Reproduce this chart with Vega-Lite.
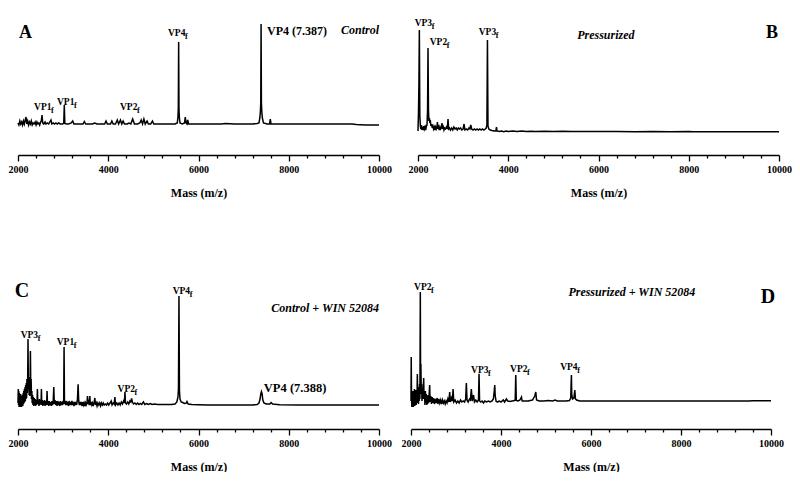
{
"$schema":"https://vega.github.io/schema/vega-lite/v6.json",
"padding":{"left":0,"top":15,"right":0,"bottom":0},
"background":"white",
"config":{"view":{"stroke":null},"font":"Liberation Serif",
 "axis":{"domainColor":"black","domainWidth":1.3,"tickColor":"black","tickWidth":1.3,"labelFont":"Liberation Serif","labelFontWeight":"bold","labelFontSize":10,"labelColor":"black","titleFont":"Liberation Serif","titleFontWeight":"bold","titleFontSize":12,"titleColor":"black"}},
"datasets":{
"A":[{"m":2000,"i":32},{"m":2020,"i":30},{"m":2040,"i":34},{"m":2060,"i":31},{"m":2080,"i":33},{"m":2100,"i":30},{"m":2120,"i":34},{"m":2140,"i":31},{"m":2160,"i":35},{"m":2177,"i":38},{"m":2195,"i":31},{"m":2215,"i":34},{"m":2235,"i":30},{"m":2255,"i":33},{"m":2275,"i":31},{"m":2295,"i":34},{"m":2315,"i":30},{"m":2335,"i":32},{"m":2355,"i":31},{"m":2380,"i":33},{"m":2400,"i":30},{"m":2420,"i":33},{"m":2440,"i":31},{"m":2460,"i":32},{"m":2480,"i":30},{"m":2500,"i":33},{"m":2517,"i":34},{"m":2532,"i":40},{"m":2547,"i":32},{"m":2570,"i":31},{"m":2600,"i":33},{"m":2620,"i":31},{"m":2650,"i":32},{"m":2680,"i":31},{"m":2705,"i":33},{"m":2731,"i":35},{"m":2750,"i":31},{"m":2780,"i":32},{"m":2810,"i":31},{"m":2840,"i":32},{"m":2870,"i":31},{"m":2900,"i":32},{"m":2940,"i":31},{"m":2990,"i":31},{"m":3014,"i":32},{"m":3026,"i":50},{"m":3038,"i":31.5},{"m":3080,"i":31},{"m":3120,"i":31},{"m":3180,"i":32},{"m":3212,"i":34},{"m":3240,"i":31},{"m":3300,"i":31},{"m":3380,"i":31},{"m":3440,"i":31},{"m":3470,"i":33.5},{"m":3500,"i":31},{"m":3580,"i":31},{"m":3650,"i":31},{"m":3700,"i":32},{"m":3750,"i":31},{"m":3850,"i":31},{"m":3920,"i":31},{"m":3950,"i":34},{"m":3980,"i":31},{"m":4050,"i":31},{"m":4080,"i":34},{"m":4110,"i":31},{"m":4160,"i":31},{"m":4200,"i":35},{"m":4230,"i":31},{"m":4270,"i":35},{"m":4300,"i":31},{"m":4330,"i":34},{"m":4360,"i":31},{"m":4420,"i":31},{"m":4460,"i":32},{"m":4500,"i":31},{"m":4541,"i":36},{"m":4580,"i":31},{"m":4650,"i":31},{"m":4700,"i":32},{"m":4730,"i":35},{"m":4760,"i":31},{"m":4790,"i":36},{"m":4820,"i":31},{"m":4860,"i":34},{"m":4890,"i":31},{"m":4940,"i":31},{"m":4980,"i":34},{"m":5010,"i":31},{"m":5100,"i":31},{"m":5200,"i":31},{"m":5300,"i":31},{"m":5400,"i":31},{"m":5480,"i":31},{"m":5530,"i":32},{"m":5545,"i":38},{"m":5553,"i":47},{"m":5560,"i":113},{"m":5567,"i":47},{"m":5575,"i":38},{"m":5590,"i":32},{"m":5640,"i":31},{"m":5690,"i":32},{"m":5707,"i":38},{"m":5725,"i":32},{"m":5745,"i":31},{"m":5761,"i":35},{"m":5780,"i":31},{"m":5850,"i":31},{"m":5950,"i":31},{"m":6100,"i":31},{"m":6300,"i":31},{"m":6500,"i":31},{"m":6600,"i":31.5},{"m":6800,"i":31},{"m":7000,"i":31},{"m":7200,"i":31},{"m":7300,"i":31.5},{"m":7340,"i":32},{"m":7360,"i":37},{"m":7372,"i":44},{"m":7380,"i":52},{"m":7387,"i":131},{"m":7394,"i":52},{"m":7402,"i":44},{"m":7415,"i":37},{"m":7440,"i":32},{"m":7520,"i":31},{"m":7575,"i":31},{"m":7591,"i":36},{"m":7607,"i":31},{"m":7700,"i":31},{"m":8000,"i":31},{"m":8500,"i":31},{"m":9000,"i":31},{"m":9400,"i":31},{"m":9500,"i":30.5},{"m":9700,"i":30},{"m":10000,"i":30}],
"B":[{"m":2000,"i":24},{"m":2012,"i":45},{"m":2020,"i":70},{"m":2030,"i":125},{"m":2040,"i":40},{"m":2052,"i":29},{"m":2064,"i":26},{"m":2076,"i":30},{"m":2088,"i":25},{"m":2100,"i":28},{"m":2114,"i":25},{"m":2128,"i":29},{"m":2142,"i":26},{"m":2156,"i":28},{"m":2170,"i":25},{"m":2185,"i":29},{"m":2200,"i":30},{"m":2212,"i":45},{"m":2222,"i":107},{"m":2232,"i":45},{"m":2242,"i":34},{"m":2252,"i":37},{"m":2262,"i":32},{"m":2272,"i":35},{"m":2285,"i":29},{"m":2300,"i":31},{"m":2315,"i":27},{"m":2330,"i":29},{"m":2345,"i":26},{"m":2360,"i":28},{"m":2375,"i":25},{"m":2390,"i":28},{"m":2405,"i":26},{"m":2420,"i":28},{"m":2430,"i":33},{"m":2440,"i":26},{"m":2455,"i":28},{"m":2470,"i":25},{"m":2485,"i":28},{"m":2500,"i":26},{"m":2515,"i":27},{"m":2532,"i":32},{"m":2545,"i":26},{"m":2560,"i":28},{"m":2575,"i":25},{"m":2590,"i":27},{"m":2610,"i":26},{"m":2630,"i":28},{"m":2650,"i":26},{"m":2665,"i":36},{"m":2680,"i":26},{"m":2700,"i":27},{"m":2720,"i":25},{"m":2745,"i":27},{"m":2770,"i":25},{"m":2795,"i":28},{"m":2820,"i":26},{"m":2845,"i":27},{"m":2870,"i":25},{"m":2895,"i":27},{"m":2920,"i":26},{"m":2945,"i":27},{"m":2970,"i":25},{"m":3000,"i":26},{"m":3020,"i":31},{"m":3040,"i":25},{"m":3070,"i":26},{"m":3100,"i":25},{"m":3130,"i":27},{"m":3150,"i":26},{"m":3169,"i":30},{"m":3190,"i":26},{"m":3220,"i":25},{"m":3250,"i":26},{"m":3280,"i":25},{"m":3310,"i":26},{"m":3340,"i":25},{"m":3370,"i":26},{"m":3400,"i":25},{"m":3430,"i":26},{"m":3460,"i":25},{"m":3490,"i":26},{"m":3512,"i":27},{"m":3527,"i":30},{"m":3539,"i":115},{"m":3551,"i":29},{"m":3570,"i":26},{"m":3600,"i":25},{"m":3640,"i":24.5},{"m":3690,"i":24},{"m":3725,"i":24},{"m":3739,"i":28},{"m":3753,"i":24},{"m":3800,"i":23.5},{"m":3850,"i":24},{"m":3900,"i":23.4},{"m":3950,"i":24},{"m":4000,"i":23.5},{"m":4100,"i":24},{"m":4200,"i":23.4},{"m":4300,"i":23.9},{"m":4400,"i":23.4},{"m":4500,"i":23.8},{"m":4600,"i":23.4},{"m":4800,"i":23.8},{"m":5000,"i":23.4},{"m":5200,"i":23.7},{"m":5400,"i":23.4},{"m":5700,"i":23.6},{"m":6000,"i":23.4},{"m":6400,"i":23.6},{"m":6800,"i":23.3},{"m":7200,"i":23.5},{"m":7600,"i":23.3},{"m":8000,"i":23.4},{"m":8100,"i":23.2},{"m":9000,"i":23.2},{"m":10000,"i":23.2}],
"C":[{"m":2000,"i":26},{"m":2006,"i":40},{"m":2012,"i":24},{"m":2018,"i":38},{"m":2024,"i":22},{"m":2030,"i":36},{"m":2037,"i":23},{"m":2044,"i":33},{"m":2051,"i":22},{"m":2058,"i":35},{"m":2065,"i":24},{"m":2072,"i":31},{"m":2079,"i":22},{"m":2086,"i":33},{"m":2093,"i":24},{"m":2100,"i":34},{"m":2107,"i":23},{"m":2114,"i":36},{"m":2121,"i":25},{"m":2128,"i":38},{"m":2135,"i":26},{"m":2142,"i":40},{"m":2149,"i":27},{"m":2156,"i":42},{"m":2163,"i":28},{"m":2170,"i":44},{"m":2177,"i":30},{"m":2184,"i":46},{"m":2191,"i":31},{"m":2198,"i":50},{"m":2206,"i":36},{"m":2214,"i":48},{"m":2222,"i":90},{"m":2230,"i":40},{"m":2238,"i":52},{"m":2246,"i":34},{"m":2254,"i":46},{"m":2262,"i":33},{"m":2268,"i":45},{"m":2275,"i":78},{"m":2283,"i":40},{"m":2291,"i":50},{"m":2299,"i":30},{"m":2307,"i":38},{"m":2315,"i":26},{"m":2323,"i":34},{"m":2331,"i":24},{"m":2340,"i":32},{"m":2350,"i":23},{"m":2360,"i":31},{"m":2370,"i":24},{"m":2380,"i":30},{"m":2390,"i":23},{"m":2400,"i":29},{"m":2412,"i":24},{"m":2422,"i":28},{"m":2430,"i":40},{"m":2440,"i":25},{"m":2452,"i":29},{"m":2464,"i":23},{"m":2476,"i":30},{"m":2488,"i":24},{"m":2500,"i":28},{"m":2512,"i":26},{"m":2519,"i":40},{"m":2528,"i":24},{"m":2540,"i":29},{"m":2552,"i":23},{"m":2564,"i":28},{"m":2576,"i":24},{"m":2588,"i":29},{"m":2600,"i":23},{"m":2612,"i":28},{"m":2624,"i":24},{"m":2636,"i":27},{"m":2644,"i":38},{"m":2654,"i":24},{"m":2668,"i":28},{"m":2682,"i":23},{"m":2696,"i":28},{"m":2710,"i":24},{"m":2724,"i":27},{"m":2738,"i":23},{"m":2752,"i":28},{"m":2766,"i":24},{"m":2780,"i":27},{"m":2793,"i":42},{"m":2805,"i":25},{"m":2820,"i":29},{"m":2835,"i":24},{"m":2850,"i":28},{"m":2865,"i":23},{"m":2880,"i":28},{"m":2895,"i":24},{"m":2910,"i":27},{"m":2925,"i":23},{"m":2940,"i":28},{"m":2955,"i":24},{"m":2970,"i":27},{"m":2985,"i":24},{"m":3000,"i":28},{"m":3012,"i":25},{"m":3021,"i":82},{"m":3030,"i":25},{"m":3045,"i":28},{"m":3060,"i":24},{"m":3075,"i":28},{"m":3090,"i":24},{"m":3105,"i":27},{"m":3120,"i":23},{"m":3135,"i":28},{"m":3150,"i":24},{"m":3165,"i":27},{"m":3180,"i":24},{"m":3195,"i":28},{"m":3210,"i":24},{"m":3225,"i":27},{"m":3240,"i":23},{"m":3255,"i":27},{"m":3270,"i":24},{"m":3285,"i":27},{"m":3300,"i":24},{"m":3318,"i":30},{"m":3332,"i":44.7},{"m":3345,"i":28},{"m":3360,"i":24},{"m":3375,"i":27},{"m":3390,"i":24},{"m":3405,"i":27},{"m":3420,"i":23},{"m":3435,"i":27},{"m":3450,"i":24},{"m":3465,"i":26},{"m":3480,"i":23},{"m":3495,"i":26},{"m":3510,"i":24},{"m":3528,"i":26},{"m":3540,"i":33},{"m":3552,"i":25},{"m":3566,"i":27},{"m":3580,"i":24},{"m":3592,"i":33},{"m":3604,"i":24},{"m":3620,"i":27},{"m":3636,"i":24},{"m":3652,"i":26},{"m":3668,"i":23},{"m":3684,"i":26},{"m":3703,"i":31},{"m":3718,"i":24},{"m":3735,"i":26},{"m":3752,"i":23},{"m":3770,"i":26},{"m":3790,"i":24},{"m":3810,"i":26},{"m":3830,"i":23},{"m":3850,"i":26},{"m":3870,"i":24},{"m":3890,"i":26},{"m":3910,"i":24},{"m":3935,"i":25},{"m":3960,"i":24},{"m":3985,"i":26},{"m":4010,"i":24},{"m":4040,"i":26},{"m":4065,"i":28},{"m":4085,"i":24},{"m":4110,"i":26},{"m":4132,"i":25},{"m":4147,"i":32},{"m":4162,"i":24},{"m":4190,"i":26},{"m":4215,"i":24},{"m":4240,"i":26},{"m":4265,"i":24},{"m":4290,"i":27},{"m":4315,"i":25},{"m":4340,"i":28},{"m":4358,"i":26},{"m":4370,"i":37},{"m":4382,"i":26},{"m":4405,"i":25},{"m":4430,"i":27},{"m":4455,"i":25},{"m":4480,"i":28},{"m":4500,"i":27},{"m":4517,"i":30.5},{"m":4535,"i":27},{"m":4560,"i":25},{"m":4590,"i":26},{"m":4620,"i":24.5},{"m":4650,"i":26},{"m":4680,"i":24.5},{"m":4710,"i":25.5},{"m":4740,"i":24.5},{"m":4780,"i":27},{"m":4810,"i":24.5},{"m":4850,"i":25.5},{"m":4890,"i":24.5},{"m":4930,"i":25.5},{"m":4970,"i":24.5},{"m":5020,"i":25},{"m":5100,"i":24.5},{"m":5200,"i":24.5},{"m":5300,"i":24.5},{"m":5400,"i":24.5},{"m":5480,"i":25},{"m":5520,"i":27},{"m":5545,"i":32},{"m":5556,"i":40},{"m":5567,"i":133},{"m":5578,"i":38},{"m":5590,"i":30},{"m":5615,"i":27},{"m":5650,"i":26.5},{"m":5690,"i":25.5},{"m":5730,"i":26},{"m":5745,"i":27.5},{"m":5770,"i":25},{"m":5850,"i":24.5},{"m":6000,"i":24.3},{"m":6200,"i":24},{"m":6500,"i":24},{"m":6800,"i":24},{"m":7000,"i":24},{"m":7200,"i":24},{"m":7300,"i":24.5},{"m":7340,"i":26},{"m":7365,"i":30},{"m":7380,"i":35},{"m":7395,"i":37.3},{"m":7410,"i":35},{"m":7425,"i":29},{"m":7450,"i":26},{"m":7500,"i":25},{"m":7580,"i":25},{"m":7610,"i":26.5},{"m":7640,"i":25},{"m":7800,"i":24.3},{"m":8200,"i":24},{"m":8600,"i":24},{"m":9000,"i":24},{"m":9500,"i":24},{"m":10000,"i":24}],
"D":[{"m":2000,"i":28},{"m":2005,"i":72},{"m":2012,"i":30},{"m":2020,"i":22},{"m":2028,"i":36},{"m":2036,"i":24},{"m":2044,"i":38},{"m":2052,"i":22},{"m":2060,"i":34},{"m":2068,"i":25},{"m":2076,"i":40},{"m":2084,"i":23},{"m":2092,"i":35},{"m":2100,"i":26},{"m":2108,"i":39},{"m":2116,"i":24},{"m":2124,"i":37},{"m":2132,"i":26},{"m":2141,"i":55},{"m":2150,"i":27},{"m":2158,"i":40},{"m":2166,"i":25},{"m":2174,"i":42},{"m":2182,"i":28},{"m":2190,"i":45},{"m":2198,"i":30},{"m":2207,"i":137},{"m":2214,"i":40},{"m":2220,"i":65},{"m":2228,"i":35},{"m":2236,"i":45},{"m":2244,"i":28},{"m":2252,"i":40},{"m":2260,"i":30},{"m":2270,"i":38},{"m":2282,"i":51},{"m":2290,"i":30},{"m":2300,"i":36},{"m":2310,"i":24},{"m":2320,"i":38},{"m":2330,"i":26},{"m":2340,"i":35},{"m":2350,"i":24},{"m":2360,"i":33},{"m":2370,"i":25},{"m":2380,"i":34},{"m":2390,"i":26},{"m":2400,"i":32},{"m":2415,"i":44},{"m":2425,"i":27},{"m":2440,"i":33},{"m":2455,"i":25},{"m":2470,"i":32},{"m":2485,"i":26},{"m":2500,"i":31},{"m":2520,"i":25},{"m":2540,"i":30},{"m":2560,"i":26},{"m":2580,"i":31},{"m":2600,"i":25},{"m":2620,"i":30},{"m":2640,"i":26},{"m":2660,"i":29},{"m":2680,"i":25},{"m":2700,"i":29},{"m":2720,"i":26},{"m":2740,"i":28},{"m":2760,"i":25},{"m":2780,"i":28},{"m":2800,"i":26},{"m":2820,"i":30},{"m":2840,"i":27},{"m":2860,"i":37},{"m":2875,"i":27},{"m":2900,"i":31},{"m":2920,"i":28},{"m":2935,"i":40},{"m":2950,"i":27},{"m":2980,"i":29},{"m":3010,"i":26},{"m":3040,"i":28},{"m":3070,"i":26},{"m":3100,"i":29},{"m":3130,"i":27},{"m":3160,"i":28},{"m":3190,"i":27},{"m":3215,"i":30},{"m":3230,"i":46},{"m":3245,"i":29},{"m":3270,"i":27},{"m":3300,"i":30},{"m":3320,"i":29},{"m":3341,"i":40},{"m":3360,"i":28},{"m":3390,"i":34},{"m":3410,"i":27},{"m":3440,"i":29},{"m":3470,"i":27},{"m":3500,"i":29},{"m":3512,"i":55.3},{"m":3524,"i":28},{"m":3550,"i":27},{"m":3580,"i":28},{"m":3610,"i":26},{"m":3640,"i":28},{"m":3680,"i":27},{"m":3720,"i":28},{"m":3760,"i":27},{"m":3800,"i":28},{"m":3830,"i":30},{"m":3850,"i":38},{"m":3861,"i":44},{"m":3872,"i":33},{"m":3890,"i":28},{"m":3920,"i":27},{"m":3960,"i":28},{"m":4000,"i":27},{"m":4050,"i":29},{"m":4080,"i":27},{"m":4120,"i":30},{"m":4150,"i":28},{"m":4200,"i":27.5},{"m":4250,"i":28},{"m":4300,"i":28.5},{"m":4316,"i":29},{"m":4328,"i":54},{"m":4340,"i":28.5},{"m":4380,"i":28},{"m":4420,"i":29},{"m":4455,"i":32},{"m":4470,"i":28},{"m":4520,"i":28},{"m":4600,"i":28},{"m":4700,"i":29},{"m":4750,"i":33},{"m":4773,"i":37},{"m":4790,"i":29},{"m":4850,"i":28},{"m":4950,"i":28},{"m":5050,"i":28.5},{"m":5150,"i":28},{"m":5200,"i":29},{"m":5250,"i":28},{"m":5350,"i":28},{"m":5450,"i":28},{"m":5520,"i":28.5},{"m":5550,"i":31},{"m":5558,"i":45},{"m":5565,"i":54},{"m":5572,"i":35},{"m":5590,"i":30},{"m":5620,"i":31},{"m":5640,"i":39},{"m":5655,"i":30},{"m":5680,"i":29},{"m":5750,"i":28},{"m":5900,"i":28},{"m":6100,"i":28},{"m":6500,"i":28},{"m":7000,"i":28},{"m":7500,"i":28},{"m":8000,"i":28},{"m":8500,"i":28},{"m":9000,"i":28},{"m":9500,"i":28},{"m":9600,"i":28.3},{"m":10000,"i":28.3}],
"Alab":[{"m":2355,"i":45,"t":"VP1"},{"m":2864,"i":50.5,"t":"VP1"},{"m":4260,"i":45,"t":"VP2"},{"m":5324,"i":119.5,"t":"VP4"}],
"Blab":[{"m":1927,"i":129,"t":"VP3"},{"m":2260,"i":110,"t":"VP2"},{"m":3346,"i":120,"t":"VP3"}],
"Clab":[{"m":2060,"i":90.7,"t":"VP3"},{"m":2859,"i":84,"t":"VP1"},{"m":4207,"i":37.3,"t":"VP2"},{"m":5428,"i":135,"t":"VP4"}],
"Dlab":[{"m":2067,"i":138.7,"t":"VP2"},{"m":3334,"i":56.3,"t":"VP3"},{"m":4202,"i":57,"t":"VP2"},{"m":5314,"i":59,"t":"VP4"}]
},
"spacing":83,
"vconcat":[
{"bounds":"flush","spacing":39,"hconcat":[
 {"width":361,"height":140,
  "encoding":{
   "x":{"field":"m","type":"quantitative","scale":{"domain":[2000,10000],"nice":false,"zero":false},
     "axis":{"title":"Mass (m/z)","values":[2000,2400,2800,3200,3600,4000,4400,4800,5200,5600,6000,6400,6800,7200,7600,8000,8400,8800,9200,9600,10000],"format":"d","labelExpr":"datum.value % 2000 === 0 ? datum.label : ''","tickSize":{"condition":{"test":"datum.value % 2000 === 0","value":6},"value":3},"grid":false,"labelOverlap":false,"labelFlush":false,"labelPadding":3,"titlePadding":13}},
   "y":{"field":"i","type":"quantitative","scale":{"domain":[0,140],"nice":false,"zero":false},
     "axis":{"title":null,"labels":false,"ticks":false,"domain":false,"grid":false,"minExtent":18,"maxExtent":18}}},
  "layer":[
   {"data":{"name":"A"},"mark":{"type":"line","color":"black","strokeWidth":1.5},"encoding":{}},
   {"data":{"name":"Alab"},"mark":{"type":"text","align":"left","baseline":"alphabetic","font":"Liberation Serif","fontWeight":"bold","fontSize":9.5,"color":"black"},"encoding":{"text":{"field":"t"}}},
   {"data":{"name":"Alab"},"mark":{"type":"text","align":"left","baseline":"alphabetic","font":"Liberation Serif","fontWeight":"bold","fontSize":8,"dx":17,"dy":3,"color":"black"},"encoding":{"text":{"value":"f"}}},
   {"data":{"values":[{"m":2022,"i":117,"t":"A"}]},"mark":{"type":"text","align":"left","baseline":"alphabetic","font":"Liberation Serif","fontWeight":"bold","fontSize":18,"color":"black"},"encoding":{"text":{"field":"t"}}},
   {"data":{"values":[{"m":7518,"i":120,"t":"VP4 (7.387)"}]},"mark":{"type":"text","align":"left","baseline":"alphabetic","font":"Liberation Serif","fontWeight":"bold","fontSize":12,"color":"black"},"encoding":{"text":{"field":"t"}}},
   {"data":{"values":[{"m":10000,"i":121,"t":"Control"}]},"mark":{"type":"text","align":"right","baseline":"alphabetic","font":"Liberation Serif","fontWeight":"bold","fontStyle":"italic","fontSize":12,"color":"black"},"encoding":{"text":{"field":"t"}}}
  ]},
 {"width":361,"height":140,
  "encoding":{
   "x":{"field":"m","type":"quantitative","scale":{"domain":[2000,10000],"nice":false,"zero":false},
     "axis":{"title":"Mass (m/z)","values":[2000,2400,2800,3200,3600,4000,4400,4800,5200,5600,6000,6400,6800,7200,7600,8000,8400,8800,9200,9600,10000],"format":"d","labelExpr":"datum.value % 2000 === 0 ? datum.label : ''","tickSize":{"condition":{"test":"datum.value % 2000 === 0","value":6},"value":3},"grid":false,"labelOverlap":false,"labelFlush":false,"labelPadding":3,"titlePadding":13}},
   "y":{"field":"i","type":"quantitative","scale":{"domain":[0,140],"nice":false,"zero":false},"axis":null}},
  "layer":[
   {"data":{"name":"B"},"mark":{"type":"line","color":"black","strokeWidth":1.5},"encoding":{}},
   {"data":{"name":"Blab"},"mark":{"type":"text","align":"left","baseline":"alphabetic","font":"Liberation Serif","fontWeight":"bold","fontSize":9.5,"color":"black"},"encoding":{"text":{"field":"t"}}},
   {"data":{"name":"Blab"},"mark":{"type":"text","align":"left","baseline":"alphabetic","font":"Liberation Serif","fontWeight":"bold","fontSize":8,"dx":17,"dy":3,"color":"black"},"encoding":{"text":{"value":"f"}}},
   {"data":{"values":[{"m":9978,"i":116.7,"t":"B"}]},"mark":{"type":"text","align":"right","baseline":"alphabetic","font":"Liberation Serif","fontWeight":"bold","fontSize":18,"color":"black"},"encoding":{"text":{"field":"t"}}},
   {"data":{"values":[{"m":6163,"i":115.7,"t":"Pressurized"}]},"mark":{"type":"text","align":"center","baseline":"alphabetic","font":"Liberation Serif","fontWeight":"bold","fontStyle":"italic","fontSize":12,"color":"black"},"encoding":{"text":{"field":"t"}}}
  ]}
]},
{"bounds":"flush","spacing":32,"hconcat":[
 {"width":361,"height":148,
  "encoding":{
   "x":{"field":"m","type":"quantitative","scale":{"domain":[2000,10000],"nice":false,"zero":false},
     "axis":{"title":"Mass (m/z)","values":[2000,2400,2800,3200,3600,4000,4400,4800,5200,5600,6000,6400,6800,7200,7600,8000,8400,8800,9200,9600,10000],"format":"d","labelExpr":"datum.value % 2000 === 0 ? datum.label : ''","tickSize":{"condition":{"test":"datum.value % 2000 === 0","value":6},"value":3},"grid":false,"labelOverlap":false,"labelFlush":false,"labelPadding":3,"titlePadding":13}},
   "y":{"field":"i","type":"quantitative","scale":{"domain":[0,148],"nice":false,"zero":false},
     "axis":{"title":null,"labels":false,"ticks":false,"domain":false,"grid":false,"minExtent":18,"maxExtent":18}}},
  "layer":[
   {"data":{"name":"C"},"mark":{"type":"line","color":"black","strokeWidth":1.5},"encoding":{}},
   {"data":{"name":"Clab"},"mark":{"type":"text","align":"left","baseline":"alphabetic","font":"Liberation Serif","fontWeight":"bold","fontSize":9.5,"color":"black"},"encoding":{"text":{"field":"t"}}},
   {"data":{"name":"Clab"},"mark":{"type":"text","align":"left","baseline":"alphabetic","font":"Liberation Serif","fontWeight":"bold","fontSize":8,"dx":17,"dy":3,"color":"black"},"encoding":{"text":{"value":"f"}}},
   {"data":{"values":[{"m":1927,"i":132,"t":"C"}]},"mark":{"type":"text","align":"left","baseline":"alphabetic","font":"Liberation Serif","fontWeight":"bold","fontSize":20,"color":"black"},"encoding":{"text":{"field":"t"}}},
   {"data":{"values":[{"m":7448,"i":37.3,"t":"VP4 (7.388)"}]},"mark":{"type":"text","align":"left","baseline":"alphabetic","font":"Liberation Serif","fontWeight":"bold","fontSize":12.5,"color":"black"},"encoding":{"text":{"field":"t"}}},
   {"data":{"values":[{"m":10000,"i":117,"t":"Control + WIN 52084"}]},"mark":{"type":"text","align":"right","baseline":"alphabetic","font":"Liberation Serif","fontWeight":"bold","fontStyle":"italic","fontSize":12,"color":"black"},"encoding":{"text":{"field":"t"}}}
  ]},
 {"width":360,"height":148,
  "encoding":{
   "x":{"field":"m","type":"quantitative","scale":{"domain":[2000,10000],"nice":false,"zero":false},
     "axis":{"title":"Mass (m/z)","values":[2000,2400,2800,3200,3600,4000,4400,4800,5200,5600,6000,6400,6800,7200,7600,8000,8400,8800,9200,9600,10000],"format":"d","labelExpr":"datum.value % 2000 === 0 ? datum.label : ''","tickSize":{"condition":{"test":"datum.value % 2000 === 0","value":6},"value":3},"grid":false,"labelOverlap":false,"labelFlush":false,"labelPadding":3,"titlePadding":13}},
   "y":{"field":"i","type":"quantitative","scale":{"domain":[0,148],"nice":false,"zero":false},"axis":null}},
  "layer":[
   {"data":{"name":"D"},"mark":{"type":"line","color":"black","strokeWidth":1.5},"encoding":{}},
   {"data":{"name":"Dlab"},"mark":{"type":"text","align":"left","baseline":"alphabetic","font":"Liberation Serif","fontWeight":"bold","fontSize":9.5,"color":"black"},"encoding":{"text":{"field":"t"}}},
   {"data":{"name":"Dlab"},"mark":{"type":"text","align":"left","baseline":"alphabetic","font":"Liberation Serif","fontWeight":"bold","fontSize":8,"dx":17,"dy":3,"color":"black"},"encoding":{"text":{"value":"f"}}},
   {"data":{"values":[{"m":10095,"i":126.3,"t":"D"}]},"mark":{"type":"text","align":"right","baseline":"alphabetic","font":"Liberation Serif","fontWeight":"bold","fontSize":20,"color":"black"},"encoding":{"text":{"field":"t"}}},
   {"data":{"values":[{"m":6908,"i":133,"t":"Pressurized + WIN 52084"}]},"mark":{"type":"text","align":"center","baseline":"alphabetic","font":"Liberation Serif","fontWeight":"bold","fontStyle":"italic","fontSize":12,"color":"black"},"encoding":{"text":{"field":"t"}}}
  ]}
]}
]
}
